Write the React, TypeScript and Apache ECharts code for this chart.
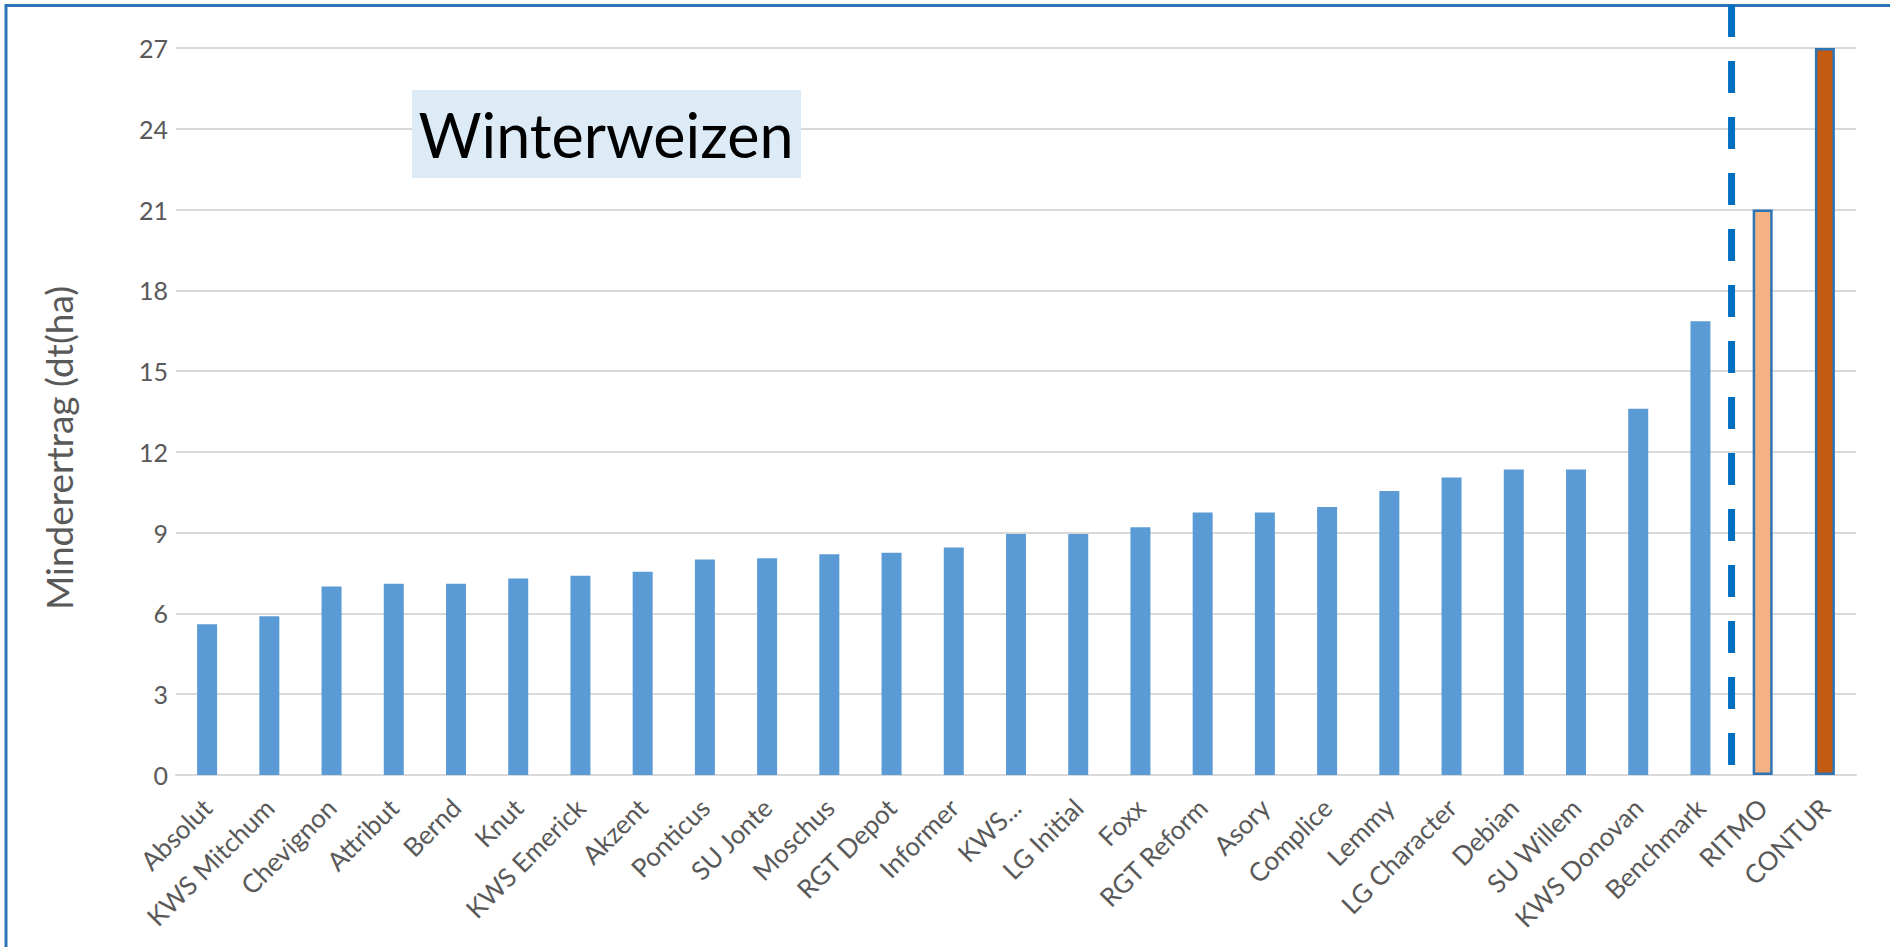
import React, { useEffect, useRef } from "react";
import * as echarts from "echarts";

const categories = [
  "Absolut", "KWS Mitchum", "Chevignon", "Attribut", "Bernd", "Knut", "KWS Emerick",
  "Akzent", "Ponticus", "SU Jonte", "Moschus", "RGT Depot", "Informer", "KWS...",
  "LG Initial", "Foxx", "RGT Reform", "Asory", "Complice", "Lemmy", "LG Character",
  "Debian", "SU Willem", "KWS Donovan", "Benchmark", "RITMO", "CONTUR",
];
const values = [
  5.6, 5.9, 7.0, 7.1, 7.1, 7.3, 7.4,
  7.55, 8.0, 8.05, 8.2, 8.25, 8.45, 8.95,
  8.95, 9.2, 9.75, 9.75, 9.95, 10.55, 11.05,
  11.35, 11.35, 13.6, 16.85, 21.0, 27.0,
];
const yTicks = { min: 0, max: 27, interval: 3 };
const titleText = "Winterweizen";
const yAxisName = "Minderertrag (dt(ha)";
const highlight: Record<string, { fill: string; border: string }> = {
  RITMO: { fill: "#F4B183", border: "#2E75B6" },
  CONTUR: { fill: "#C55A11", border: "#2E75B6" },
};
const dividerBetween = ["Benchmark", "RITMO"];

const FONT = "Lato, 'Open Sans', sans-serif";
const GREY = "#595959";

export default function App() {
  const ref = useRef<HTMLDivElement>(null);
  useEffect(() => {
    document.body.style.margin = "0";
    const chart = echarts.init(ref.current!, null, { renderer: "svg" });
    const data = categories.map((c, i) => {
      const h = highlight[c];
      return h
        ? { value: values[i], itemStyle: { color: h.fill, borderColor: h.border, borderWidth: 2.5 } }
        : { value: values[i] };
    });
    chart.setOption({
      animation: false,
      backgroundColor: "#ffffff",
      grid: { left: 176, right: 34, top: 48, bottom: 172 },
      xAxis: {
        type: "category",
        data: categories,
        axisTick: { show: false },
        axisLine: { lineStyle: { color: "#D9D9D9", width: 2 } },
        axisLabel: {
          rotate: 45,
          interval: 0,
          color: GREY,
          fontFamily: FONT,
          fontSize: 26,
          margin: 28,
        },
      },
      yAxis: {
        type: "value",
        min: yTicks.min,
        max: yTicks.max,
        interval: yTicks.interval,
        axisLine: { show: false },
        axisTick: { show: false },
        splitLine: { lineStyle: { color: "#D9D9D9", width: 2 } },
        axisLabel: { color: GREY, fontFamily: FONT, fontSize: 25, margin: 8 },
      },
      series: [
        {
          type: "bar",
          data,
          barWidth: 20,
          itemStyle: { color: "#5B9BD5" },
        },
      ],
    });
    const xa = chart.convertToPixel({ xAxisIndex: 0 }, dividerBetween[0]) as number;
    const xb = chart.convertToPixel({ xAxisIndex: 0 }, dividerBetween[1]) as number;
    const xm = (xa + xb) / 2;
    const y0 = chart.convertToPixel({ yAxisIndex: 0 }, 0) as number;
    chart.setOption({
      graphic: [
        {
          type: "polyline",
          shape: { points: [[6, 1200], [6, 5.5], [2000, 5.5]] },
          style: { stroke: "#2E75B6", lineWidth: 3, fill: "none" },
          silent: true,
        },
        {
          type: "line",
          shape: { x1: xm, y1: 5, x2: xm, y2: y0 - 10 },
          style: { stroke: "#0070C0", lineWidth: 7, lineDash: [32, 24] },
          silent: true,
        },
        {
          type: "rect",
          shape: { x: 412, y: 90, width: 389, height: 88 },
          style: { fill: "#DDEBF7" },
          silent: true,
        },
        {
          type: "text",
          x: 606,
          y: 134,
          style: {
            text: titleText,
            font: `61px ${FONT}`,
            fill: "#000000",
            align: "center",
            verticalAlign: "middle",
          },
          silent: true,
        },
        {
          type: "text",
          x: 58,
          y: 448,
          rotation: Math.PI / 2,
          style: {
            text: yAxisName,
            font: `37px ${FONT}`,
            fill: GREY,
            align: "center",
            verticalAlign: "middle",
          },
          silent: true,
        },
      ],
    });
    return () => chart.dispose();
  }, []);
  return <div ref={ref} style={{ width: 1890, height: 947 }} />;
}
